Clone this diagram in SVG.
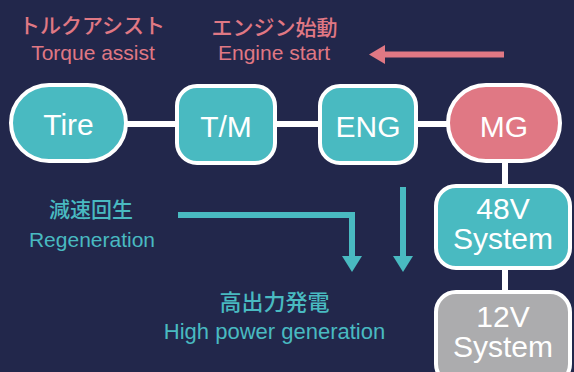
<svg xmlns="http://www.w3.org/2000/svg" width="574" height="372" viewBox="0 0 574 372">
<style>
.bg{fill:#22274b}
.node rect{stroke:#ffffff;stroke-width:4}
.teal{fill:#49bac1}
.pink{fill:#e07884}
.gray{fill:#acacae}
.lbl{font-family:"Liberation Sans",Arial,sans-serif;font-size:30px;fill:#ffffff;text-anchor:middle}
.wire{stroke:#ffffff;stroke-width:6;fill:none}
.ja{font-family:"Noto Sans CJK JP","Noto Sans",sans-serif;font-size:21px;font-weight:500;text-anchor:middle}
.en{font-family:"Liberation Sans",Arial,sans-serif;font-size:21px;text-anchor:middle}
.tp{fill:#e07884}
.tt{fill:#49bac1}
.arrP{stroke:#e07884;stroke-width:6;fill:none}
.arrT{stroke:#49bac1;stroke-width:6;fill:none}
</style>
<rect class="bg" x="0" y="0" width="574" height="372"/>
<g id="connectors">
<line class="wire" x1="126" y1="124" x2="177" y2="124"/>
<line class="wire" x1="275" y1="124" x2="320" y2="124"/>
<line class="wire" x1="416" y1="124" x2="448" y2="124"/>
<line class="wire" x1="505" y1="161" x2="505" y2="186"/>
<line class="wire" x1="505" y1="268" x2="505" y2="292"/>
<line class="arrP" x1="384" y1="54.5" x2="504" y2="54.5"/>
<polygon fill="#e07884" points="369,54.5 385,45 385,64"/>
<polyline class="arrT" points="178,215 352,215 352,257"/>
<polygon fill="#49bac1" points="342,256 362,256 352,272"/>
<line class="arrT" x1="403" y1="187" x2="403" y2="257"/>
<polygon fill="#49bac1" points="393,256 413,256 403,272"/>
</g>
<g id="tire" class="node">
<rect class="teal" x="11" y="85" width="115" height="76" rx="38"/>
<text class="lbl" x="68.5" y="135">Tire</text>
</g>
<g id="tm" class="node">
<rect class="teal" x="177" y="86" width="98" height="77" rx="20"/>
<text class="lbl" x="226" y="137">T/M</text>
</g>
<g id="eng" class="node">
<rect class="teal" x="320" y="86" width="96" height="77" rx="20"/>
<text class="lbl" x="368" y="137">ENG</text>
</g>
<g id="mg" class="node">
<rect class="pink" x="448" y="85" width="112" height="76" rx="38"/>
<text class="lbl" x="504" y="137">MG</text>
</g>
<g id="sys48" class="node">
<rect class="teal" x="436" y="186" width="134" height="82" rx="20"/>
<text class="lbl" x="503" y="219">48V</text>
<text class="lbl" x="503" y="249">System</text>
</g>
<g id="sys12" class="node">
<rect class="gray" x="436" y="292" width="134" height="92" rx="20"/>
<text class="lbl" x="503" y="327">12V</text>
<text class="lbl" x="503" y="357">System</text>
</g>
<g id="labels">
<text class="ja tp" x="92" y="33">トルクアシスト</text>
<text class="en tp" x="93" y="60">Torque assist</text>
<text class="ja tp" x="274.5" y="35">エンジン始動</text>
<text class="en tp" x="274" y="60">Engine start</text>
<text class="ja tt" x="91" y="217">減速回生</text>
<text class="en tt" x="92" y="247">Regeneration</text>
<text class="ja tt" x="274.5" y="310" style="font-size:22px">高出力発電</text>
<text class="en tt" x="274.5" y="339" style="font-size:22px">High power generation</text>
</g>
</svg>
